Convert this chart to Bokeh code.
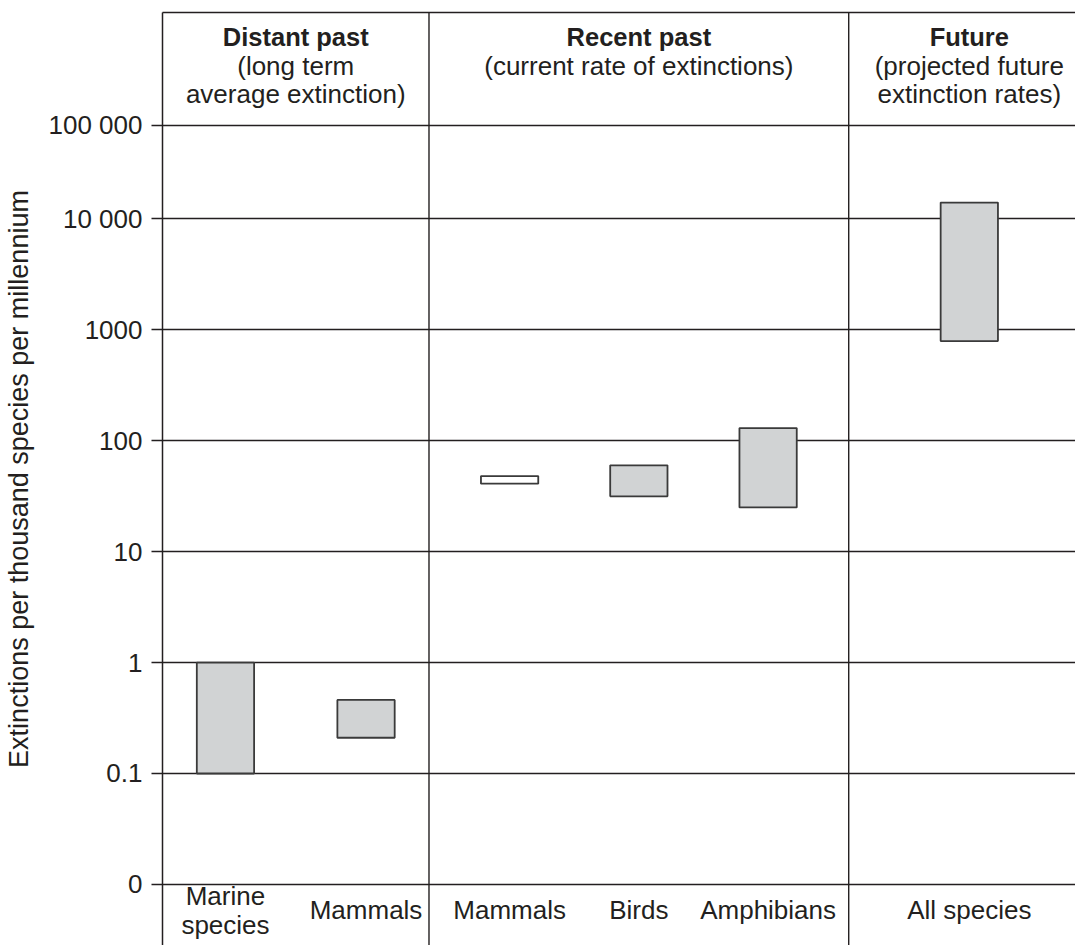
from bokeh.plotting import figure
from bokeh.models import Range1d, FixedTicker, CustomJSTickFormatter, Span
from bokeh.core.properties import value
from bokeh.embed import file_html
from bokeh.resources import INLINE

# ---------------- data ----------------
groups = ["Distant past", "Recent past", "Future"]
group_notes = ["(long term\naverage extinction)",
               "(current rate of extinctions)",
               "(projected future\nextinction rates)"]
categories = ["Marine\nspecies", "Mammals", "Mammals", "Birds", "Amphibians", "All species"]
category_group = [0, 0, 1, 1, 1, 2]
rate_low = [0.1, 0.21, 41, 31.5, 25, 790]
rate_high = [1.0, 0.46, 48, 60, 130, 14000]
# the source chart draws "0" one decade below 0.1 and compresses its top decade
y_tick_values = [0.01, 0.1, 1, 10, 100, 1000, 10000, 69800]
y_tick_labels = ["0", "0.1", "1", "10", "100", "1000", "10 000", "100 000"]

# ---------------- layout / style ----------------
FONT = "Liberation Sans"
INK = "#231f20"
BOX_LINE = "#3a3a3a"
box_fill = ["#d1d3d4", "#d1d3d4", "#ffffff", "#d1d3d4", "#d1d3d4", "#d1d3d4"]
group_width = [2.0, 3.15, 1.81]       # column widths in x units
group_spacing = [1.055, 0.97, 1.0]    # distance between neighbouring boxes in a column
box_width = 0.43
FS = "26px"
FS_BOLD = "25.5px"

group_start = []
acc = 0.0
for w in group_width:
    group_start.append(acc)
    acc += w
group_center = [s + w / 2 for s, w in zip(group_start, group_width)]

xs = []
for gi in range(len(groups)):
    members = [i for i, g in enumerate(category_group) if g == gi]
    n = len(members)
    for k, _ in enumerate(members):
        xs.append(group_center[gi] + (k - (n - 1) / 2) * group_spacing[gi])

p = figure(width=1075, height=945,
           x_range=Range1d(0, 6.852),
           y_range=Range1d(10 ** -2.5504, 10 ** 5.8596),
           y_axis_type="log", x_axis_location="above",
           output_backend="svg", toolbar_location=None,
           min_border_left=162, min_border_right=0,
           min_border_top=12, min_border_bottom=0)
p.outline_line_color = None
p.background_fill_color = "white"
p.border_fill_color = "white"

# top frame line (empty axis above)
xa = p.xaxis[0]
xa.ticker = FixedTicker(ticks=[])
xa.major_label_text_font_size = "0px"
xa.major_tick_out = 0
xa.major_tick_in = 0
xa.minor_tick_out = 0
xa.minor_tick_in = 0
xa.major_label_standoff = 0
xa.axis_line_color = INK
xa.axis_line_width = 1.5
p.xgrid.visible = False

ya = p.yaxis[0]
ya.ticker = FixedTicker(ticks=y_tick_values)
ya.formatter = CustomJSTickFormatter(
    args=dict(vals=y_tick_values, labs=y_tick_labels),
    code="""
const i = vals.findIndex(v => Math.abs(v - tick) <= 1e-9 * Math.abs(v));
return i < 0 ? '' : labs[i];
""")
ya.axis_line_color = INK
ya.axis_line_width = 1.5
ya.major_tick_line_color = INK
ya.major_tick_line_width = 1.3
ya.major_tick_out = 11
ya.major_tick_in = 0
ya.minor_tick_line_color = None
ya.major_label_standoff = 9
ya.major_label_text_font = FONT
ya.major_label_text_font_size = FS
ya.major_label_text_color = INK
ya.axis_label = "Extinctions per thousand species per millennium"
ya.axis_label_text_font = FONT
ya.axis_label_text_font_size = "27px"
ya.axis_label_text_font_style = "normal"
ya.axis_label_text_color = INK
ya.axis_label_standoff = 12

p.ygrid.ticker = FixedTicker(ticks=y_tick_values)
p.ygrid.grid_line_color = INK
p.ygrid.grid_line_width = 1.4
p.ygrid.minor_grid_line_color = None

# column dividers
for s in group_start[1:]:
    p.add_layout(Span(location=s, dimension="height", line_color=INK, line_width=1.4))

# boxes
p.quad(left=[x - box_width / 2 for x in xs], right=[x + box_width / 2 for x in xs],
       bottom=rate_low, top=rate_high,
       fill_color=box_fill, line_color=BOX_LINE, line_width=1.8)

# headers
header_y = [y_tick_values[-1]] * len(groups)
p.text(x=group_center, y=header_y, text=groups,
       text_font=value(FONT), text_font_style="bold", text_font_size=FS_BOLD,
       text_color=INK, text_align="center", text_baseline="alphabetic",
       y_offset=-87.7)
p.text(x=group_center, y=header_y, text=group_notes,
       text_font=value(FONT), text_font_size=FS, text_line_height=0.95,
       text_color=INK, text_align="center", text_baseline="top",
       y_offset=-74.2)

# category labels
p.text(x=xs, y=[y_tick_values[0]] * len(xs), text=categories,
       text_font=value(FONT), text_font_size=FS, text_line_height=0.97,
       text_color=INK, text_align="center", text_baseline="middle",
       y_offset=26)

open("out.html", "w").write(file_html(p, INLINE))
